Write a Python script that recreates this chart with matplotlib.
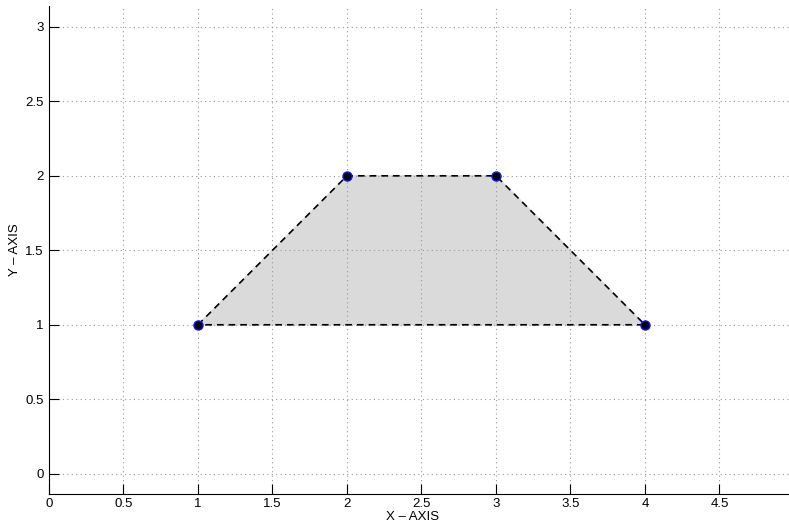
import matplotlib
matplotlib.use("Agg")
import matplotlib.pyplot as plt

# trapezoid vertices
x_pts = [1, 2, 3, 4]
y_pts = [1, 2, 2, 1]

x_ticks = [0, 0.5, 1, 1.5, 2, 2.5, 3, 3.5, 4, 4.5]
y_ticks = [0, 0.5, 1, 1.5, 2, 2.5, 3]

plt.rcParams['font.family'] = ['Liberation Sans', 'DejaVu Sans']

fig = plt.figure(figsize=(7.89, 5.24), dpi=100)
ax = fig.add_axes([49 / 789, 30 / 524, 740 / 789, 488 / 524])

ax.fill(x_pts, y_pts, color='#dadada', zorder=1)
ax.plot(x_pts + [x_pts[0]], y_pts + [y_pts[0]], 'k--', lw=1.2, dashes=(4, 3), zorder=2)
ax.plot(x_pts, y_pts, 'o', color='black', markeredgecolor='#1010ff',
        markersize=6.5, markeredgewidth=1.0, zorder=3)

ax.set_xlim(0, 4.967)
ax.set_ylim(-0.136, 3.14)
ax.set_xticks(x_ticks)
ax.set_yticks(y_ticks)
ax.set_xticklabels([f'{t:g}' for t in x_ticks])
ax.set_yticklabels([f'{t:g}' for t in y_ticks])
ax.tick_params(direction='in', length=7, labelsize=9.5, pad=4)
ax.tick_params(axis='x', pad=3)

ax.grid(True, linestyle=(0, (1, 3)), color='#999999', lw=0.8)
ax.spines['top'].set_visible(False)
ax.spines['right'].set_visible(False)

ax.set_xlabel('X – AXIS', fontsize=9.5, va='center')
ax.set_ylabel('Y – AXIS', fontsize=9.5, va='center')
ax.xaxis.set_label_coords(-0.004 + 367 / 740, -23 / 488)
ax.yaxis.set_label_coords(-34 / 740, 0.5)

fig.savefig('out.png', dpi=100)
